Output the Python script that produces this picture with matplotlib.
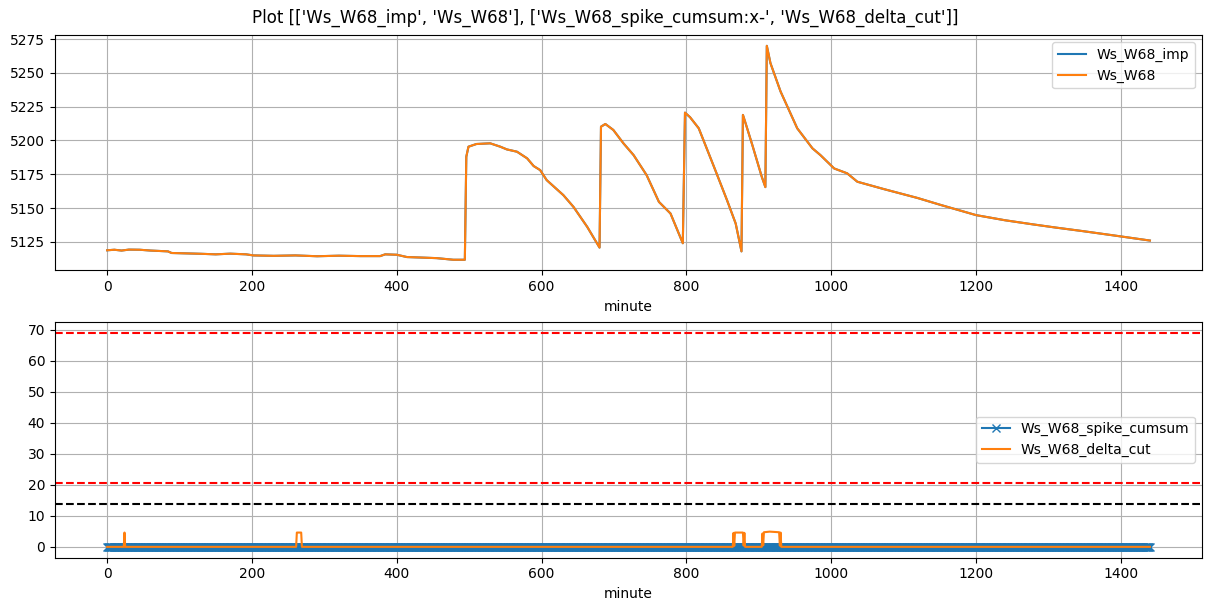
import numpy as np
import matplotlib
matplotlib.use("Agg")
import matplotlib.pyplot as plt

# Ws_W68 key points (minute, value)
ws_minute = [0, 10, 20, 30, 45, 60, 84, 89, 110, 130, 150, 170, 192, 202, 230, 260,
             290, 320, 350, 377, 384, 400, 414, 435, 455, 478, 494,
             496, 499, 510, 529, 543, 552, 566, 580, 589, 598, 607, 630, 644, 663, 680,
             682, 688, 699, 713, 727, 745, 762, 778, 795,
             798, 805, 817, 838, 856, 868, 876,
             878, 881, 891, 904, 909,
             911, 916, 930, 953, 974, 985, 1004, 1022, 1036, 1073, 1119, 1150,
             1200, 1240, 1278, 1310, 1347, 1390, 1440]
ws_value = [5118.8, 5119.2, 5118.6, 5119.3, 5119.2, 5118.6, 5118.0, 5116.8, 5116.5, 5116.2,
            5115.8, 5116.3, 5115.8, 5115.0, 5114.7, 5115.0, 5114.4, 5114.8, 5114.5, 5114.5,
            5115.8, 5115.5, 5113.8, 5113.4, 5113.0, 5111.8, 5111.8,
            5188.0, 5195.4, 5197.4, 5197.9, 5195.4, 5193.4, 5191.7, 5186.8, 5181.1, 5178.1,
            5170.7, 5159.6, 5150.9, 5136.1, 5120.8,
            5210.2, 5212.2, 5207.8, 5197.9, 5189.2, 5174.4, 5154.6, 5146.0, 5124.0,
            5220.6, 5217.2, 5209.0, 5180.6, 5155.9, 5138.6, 5118.0,
            5218.9, 5213.9, 5196.6, 5173.2, 5165.5,
            5270.0, 5257.2, 5236.2, 5209.0, 5194.2, 5189.2, 5179.3, 5175.7, 5169.5,
            5164.0, 5157.5, 5152.5, 5144.8, 5141.0, 5138.0, 5135.6, 5133.0, 5129.8, 5126.0]

# spike_cumsum stays at zero over the whole day
spike_minute = np.arange(0, 1441)
spike_cumsum = np.zeros(len(spike_minute))

# delta_cut key points (minute, value)
delta_minute = [0, 23, 24, 25, 261, 262, 268, 269,
                864, 865, 866, 867, 878, 879, 880, 881,
                904, 905, 906, 907, 915, 928, 929, 930, 931, 1440]
delta_value = [0, 0, 4.6, 0, 0, 4.6, 4.6, 0,
               0, 4.5, 0.3, 4.6, 4.6, 0.4, 4.5, 0,
               0, 4.3, 0.5, 4.7, 4.9, 4.7, 0.4, 4.6, 0, 0]

# thresholds
red_levels = [68.9, 20.6]
black_level = 13.9

fig, (ax1, ax2) = plt.subplots(2, 1, figsize=(12.11, 6.11), dpi=100)
fig.subplots_adjust(left=0.0454, right=0.9926, top=0.9425, bottom=0.0875, hspace=0.22)
fig.suptitle("Plot [['Ws_W68_imp', 'Ws_W68'], ['Ws_W68_spike_cumsum:x-', 'Ws_W68_delta_cut']]",
             y=0.985)

ax1.plot(ws_minute, ws_value, label="Ws_W68_imp")
ax1.plot(ws_minute, ws_value, label="Ws_W68")
ax1.set_xlabel("minute")
ax1.grid(True)
ax1.legend(loc="upper right")

ax2.plot(spike_minute, spike_cumsum, "x-", label="Ws_W68_spike_cumsum")
ax2.plot(delta_minute, delta_value, label="Ws_W68_delta_cut")
for lvl in red_levels:
    ax2.axhline(lvl, color="red", linestyle="--")
ax2.axhline(black_level, color="black", linestyle="--")
ax2.set_xlabel("minute")
ax2.grid(True)
ax2.legend(loc="center right")

fig.savefig("out.png")
